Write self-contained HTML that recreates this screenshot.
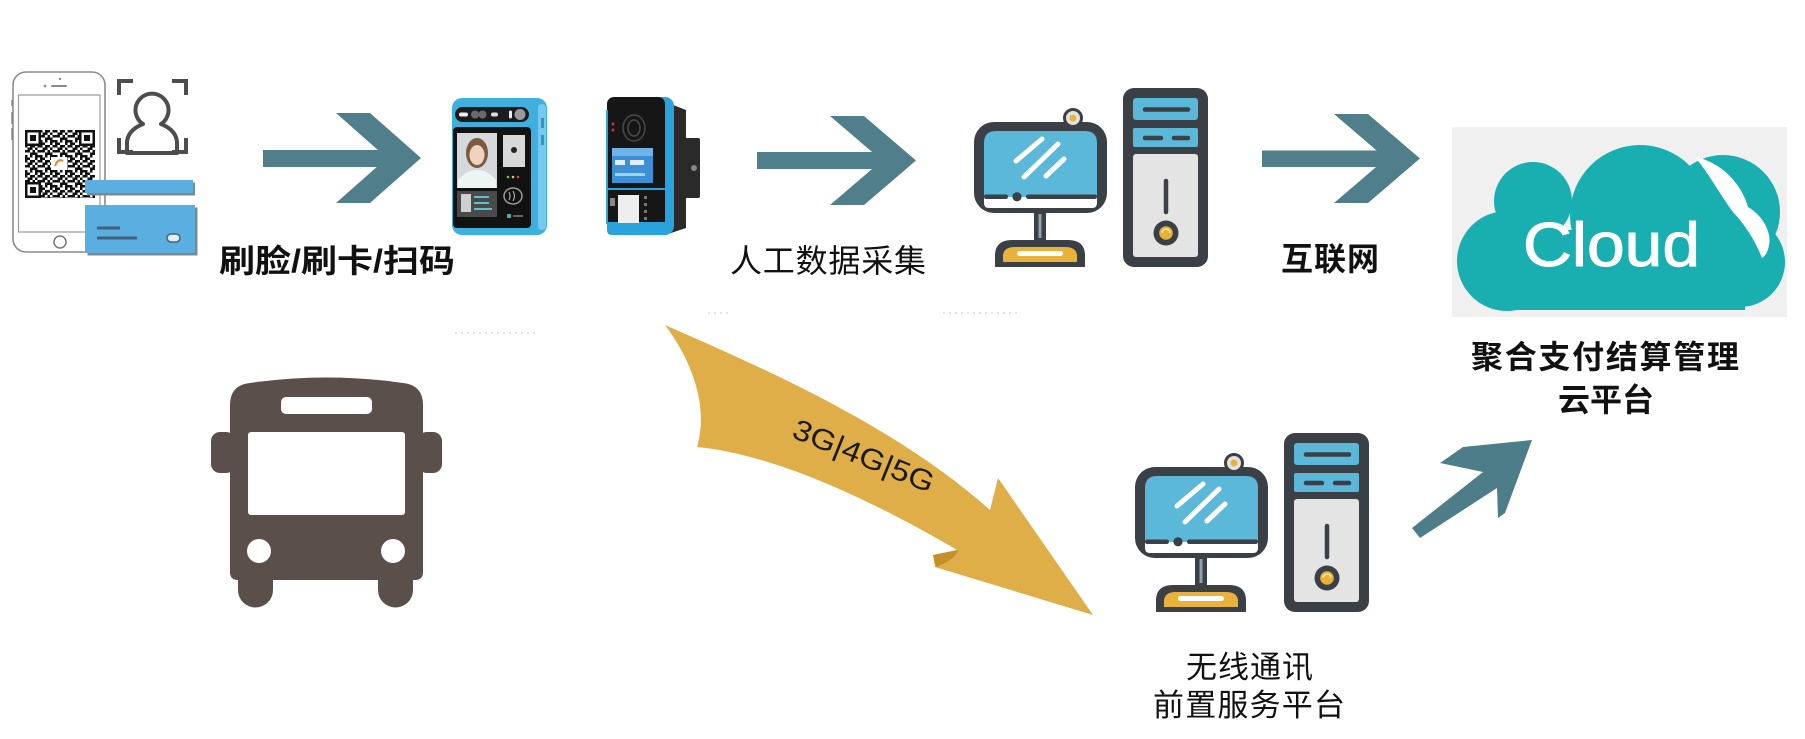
<!DOCTYPE html>
<html>
<head>
<meta charset="utf-8">
<style>
  html,body{margin:0;padding:0;background:#fff;}
  svg{display:block;}
  .cjk{font-family:"Liberation Sans","Noto Sans CJK SC",sans-serif;fill:#111;}
</style>
</head>
<body>
<svg xmlns="http://www.w3.org/2000/svg" xmlns:xlink="http://www.w3.org/1999/xlink" width="1805" height="739" viewBox="0 0 1805 739">
<defs>
  <pattern id="qr" x="25" y="130" width="15" height="15" patternUnits="userSpaceOnUse">
    <rect x="0" y="0" width="2.5" height="2.5" fill="#111"/>
    <rect x="5" y="0" width="5" height="2.5" fill="#111"/>
    <rect x="12.5" y="0" width="2.5" height="2.5" fill="#111"/>
    <rect x="2.5" y="2.5" width="5" height="2.5" fill="#111"/>
    <rect x="10" y="2.5" width="2.5" height="2.5" fill="#111"/>
    <rect x="0" y="5" width="5" height="2.5" fill="#111"/>
    <rect x="7.5" y="5" width="2.5" height="2.5" fill="#111"/>
    <rect x="12.5" y="5" width="2.5" height="2.5" fill="#111"/>
    <rect x="5" y="7.5" width="7.5" height="2.5" fill="#111"/>
    <rect x="0" y="10" width="2.5" height="2.5" fill="#111"/>
    <rect x="5" y="10" width="2.5" height="2.5" fill="#111"/>
    <rect x="10" y="10" width="5" height="2.5" fill="#111"/>
    <rect x="0" y="12.5" width="5" height="2.5" fill="#111"/>
    <rect x="10" y="12.5" width="2.5" height="2.5" fill="#111"/>
  </pattern>
</defs>
<rect width="1805" height="739" fill="#fff"/>

<!-- faint dotted lines -->
<g stroke="#c4c4c4" stroke-width="1" stroke-dasharray="2 4">
  <line x1="455" y1="333" x2="535" y2="333"/>
  <line x1="708" y1="313" x2="728" y2="313"/>
  <line x1="943" y1="313" x2="1020" y2="313"/>
</g>

<!-- ============ PHONE ============ -->
<rect x="13" y="72" width="92" height="180" rx="13" fill="#fff" stroke="#8c8c8c" stroke-width="1.6"/>
<rect x="18.5" y="95" width="81.5" height="137" fill="#fff" stroke="#9a9a9a" stroke-width="1.2"/>
<line x1="52" y1="86" x2="66" y2="86" stroke="#888" stroke-width="2" stroke-linecap="round"/>
<circle cx="45" cy="86" r="1.3" fill="#888"/>
<circle cx="60" cy="79" r="1.2" fill="#888"/>
<circle cx="60" cy="242" r="6" fill="none" stroke="#777" stroke-width="1.5"/>
<line x1="12" y1="100" x2="12" y2="106" stroke="#888" stroke-width="1.5"/>
<line x1="12" y1="112" x2="12" y2="124" stroke="#888" stroke-width="1.5"/>
<line x1="12" y1="128" x2="12" y2="140" stroke="#888" stroke-width="1.5"/>
<!-- QR -->
<rect x="25" y="130" width="70" height="68" fill="url(#qr)"/>
<g>
  <rect x="25" y="130" width="16" height="16" fill="#111"/><rect x="27.5" y="132.5" width="11" height="11" fill="#fff"/><rect x="30" y="135" width="6" height="6" fill="#111"/>
  <rect x="79" y="130" width="16" height="16" fill="#111"/><rect x="81.5" y="132.5" width="11" height="11" fill="#fff"/><rect x="84" y="135" width="6" height="6" fill="#111"/>
  <rect x="25" y="182" width="16" height="16" fill="#111"/><rect x="27.5" y="184.5" width="11" height="11" fill="#fff"/><rect x="30" y="187" width="6" height="6" fill="#111"/>
  <rect x="51" y="157" width="16" height="13" fill="#fff"/>
  <path d="M55,166 Q58,158 63,161" stroke="#e88a2a" stroke-width="2" fill="none"/>
</g>
<!-- card -->
<rect x="87" y="182.5" width="108" height="13" fill="#7d8890"/>
<rect x="85" y="180" width="108" height="13" fill="#5aaee0"/>
<rect x="87.5" y="207.5" width="110" height="48" fill="#7d8890"/>
<rect x="85" y="205" width="110" height="48" fill="#5aaee0"/>
<line x1="97" y1="228" x2="120" y2="228" stroke="#42607a" stroke-width="3"/>
<line x1="97" y1="238" x2="137" y2="238" stroke="#42607a" stroke-width="3"/>
<rect x="167" y="234" width="13" height="8" rx="4" fill="#e4edf3" stroke="#42607a" stroke-width="1.5"/>

<!-- face icon -->
<g fill="none" stroke="#4d4d4d" stroke-width="4" stroke-linecap="square">
  <path d="M119,93 V81 H131"/>
  <path d="M174,81 H186 V93"/>
  <path d="M119,140 V152 H131"/>
  <path d="M174,152 H186 V140"/>
  <path d="M143,124 A16.5,16.5 0 1 1 161,124 Q176,130 177,142 V153 H127 V142 Q128,130 143,124 Z" stroke-linejoin="round"/>
</g>

<!-- arrow 1 -->
<g fill="#517e8b">
  <rect x="263" y="150" width="130" height="17"/>
  <polygon points="336,113 370,113 421,158 370,203 336,203 387,158"/>
</g>

<!-- ============ DEVICE 1 (face terminal) ============ -->
<rect x="452" y="98" width="95" height="137" rx="10" fill="#3fb0de"/>
<rect x="538" y="104" width="8" height="126" rx="4" fill="#74c9ec"/>
<rect x="541" y="118" width="3" height="10" fill="#2d95c0"/>
<rect x="541" y="135" width="3" height="10" fill="#2d95c0"/>
<rect x="455" y="107" width="74" height="15" rx="7.5" fill="#1c1c1c"/>
<rect x="459" y="112.5" width="9" height="4" rx="2" fill="#eee"/>
<circle cx="475" cy="114.5" r="4" fill="#6a6a6a"/>
<circle cx="482.5" cy="114.5" r="4" fill="#6a6a6a"/>
<rect x="491" y="112.5" width="7" height="4" rx="2" fill="#ddd"/>
<rect x="509" y="110.5" width="3" height="8" rx="1.5" fill="#eee"/>
<circle cx="520" cy="114.5" r="5.5" fill="#9a9a9a"/>
<rect x="453" y="127" width="78" height="101" rx="4" fill="#121212"/>
<rect x="457" y="133" width="40" height="55" fill="#d5d9dc"/>
<ellipse cx="477" cy="153" rx="11" ry="15" fill="#7b5a44"/>
<ellipse cx="477" cy="155" rx="7.5" ry="10" fill="#efd2c0"/>
<path d="M458,188 V180 Q466,170 477,170 Q488,170 496,180 V188 Z" fill="#eef3f4"/>
<rect x="457" y="191" width="40" height="26" fill="#4a4a4a"/>
<rect x="461" y="194" width="10" height="18" fill="#cfcfcf"/>
<rect x="474" y="196" width="15" height="2" fill="#5bc4c8"/>
<rect x="474" y="202" width="15" height="2" fill="#5bc4c8"/>
<rect x="474" y="208" width="18" height="2" fill="#5bc4c8"/>
<rect x="503" y="135" width="22" height="32" fill="#d8d8d8"/>
<circle cx="514" cy="150" r="3" fill="#222"/>
<circle cx="508" cy="177" r="1.3" fill="#5c5"/>
<circle cx="513" cy="177" r="1.3" fill="#dc4"/>
<circle cx="518" cy="177" r="1.3" fill="#d44"/>
<ellipse cx="513" cy="196" rx="9" ry="8" fill="none" stroke="#9a9a9a" stroke-width="1.5"/>
<path d="M509,192 Q511,196 509,200 M513,191 Q516,196 513,201" stroke="#aaa" stroke-width="1.2" fill="none"/>
<rect x="507" y="214" width="4" height="4" fill="#3ab0b0"/>
<rect x="513" y="215" width="10" height="2" fill="#666"/>

<!-- ============ DEVICE 2 (POS) ============ -->
<rect x="682" y="138" width="18" height="60" rx="2" fill="#2a2a2a"/>
<circle cx="694" cy="168" r="3" fill="#888"/>
<path d="M668,103 L686,110 V228 L668,234 Z" fill="#2a2a2a"/>
<rect x="652" y="97" width="22" height="138" rx="9" fill="#2aa3dd"/>
<rect x="607" y="97" width="58" height="131" rx="7" fill="#161616"/>
<path d="M607,222 H670 V231 Q670,235 665,235 H612 Q607,235 607,230 Z" fill="#2aa3dd"/>
<rect x="606" y="110" width="2" height="114" fill="#2aa3dd"/>
<ellipse cx="634" cy="128" rx="11" ry="13" fill="none" stroke="#4a4a4a" stroke-width="1.5"/>
<ellipse cx="634" cy="128" rx="6" ry="8" fill="none" stroke="#4a4a4a" stroke-width="1.5"/>
<circle cx="613" cy="124" r="1.5" fill="#c33"/>
<circle cx="613" cy="130" r="1.5" fill="#c33"/>
<rect x="612" y="148" width="41" height="35" fill="#3d8fd6"/>
<rect x="612" y="148" width="41" height="8" fill="#6fb3ea"/>
<rect x="615" y="160" width="10" height="5" fill="#dfeefa"/>
<rect x="630" y="160" width="14" height="5" fill="#dfeefa"/>
<rect x="615" y="173" width="30" height="3" fill="#9fd0f5"/>
<rect x="607" y="188" width="60" height="2" fill="#2aa3dd"/>
<rect x="618" y="195" width="21" height="28" fill="#eee"/>
<rect x="610" y="198" width="5" height="8" fill="#888"/>
<rect x="644" y="196" width="3" height="3" fill="#777"/>
<rect x="644" y="203" width="3" height="3" fill="#777"/>
<rect x="644" y="210" width="3" height="3" fill="#777"/>
<rect x="644" y="217" width="3" height="3" fill="#777"/>

<!-- arrow 2 -->
<g fill="#517e8b">
  <rect x="757" y="152" width="130" height="17"/>
  <polygon points="830,116 864,116 916,160.5 864,205 830,205 882,160.5"/>
</g>

<!-- ============ COMPUTER ============ -->
<g id="pc">
  <rect x="974" y="122" width="133" height="91" rx="20" fill="#3a4046"/>
  <path d="M984,143 Q984,131 996,131 H1085 Q1097,131 1097,143 V197 H984 Z" fill="#5bb8d8"/>
  <path d="M984,197 H1097 V203 Q1097,208 1092,208 H989 Q984,208 984,203 Z" fill="#fff"/>
  <rect x="984" y="194.5" width="24" height="4.5" rx="2.2" fill="#3a4046"/>
  <rect x="1026" y="194.5" width="71" height="4.5" rx="2.2" fill="#3a4046"/>
  <circle cx="1017" cy="196.8" r="4.6" fill="#3a4046"/>
  <g stroke="#fff" stroke-width="5" stroke-linecap="round">
    <line x1="1016" y1="161" x2="1042" y2="139"/>
    <line x1="1024" y1="177" x2="1058" y2="144"/>
    <line x1="1046" y1="176" x2="1064" y2="159"/>
  </g>
  <circle cx="1073" cy="118" r="8.5" fill="#e2e2e2" stroke="#3a4046" stroke-width="3"/>
  <circle cx="1073" cy="118" r="3.5" fill="#e8b23a"/>
  <rect x="1034" y="212" width="12" height="30" fill="#3a4046"/>
  <rect x="1038.5" y="214" width="3" height="24" fill="#8fa3ad"/>
  <path d="M995,267 V254 Q996,240 1012,240 H1068 Q1084,240 1085,254 V267 Z" fill="#3a4046"/>
  <path d="M1003,262 V255 Q1004,247 1015,247 H1065 Q1076,247 1077,255 V262 Z" fill="#e8b23a"/>
  <rect x="1017" y="251" width="46" height="5" rx="2.5" fill="#fff"/>
  <rect x="1123" y="88" width="85" height="179" rx="11" fill="#3a4046"/>
  <rect x="1133" y="98" width="65" height="22" rx="3" fill="#5bb8d8"/>
  <line x1="1145" y1="109.5" x2="1188" y2="109.5" stroke="#3a4046" stroke-width="4.5" stroke-linecap="round"/>
  <rect x="1133" y="128" width="65" height="19" rx="2" fill="#5bb8d8"/>
  <line x1="1145" y1="138" x2="1161" y2="138" stroke="#3a4046" stroke-width="4.5" stroke-linecap="round"/>
  <line x1="1174" y1="138" x2="1188" y2="138" stroke="#3a4046" stroke-width="4.5" stroke-linecap="round"/>
  <rect x="1133" y="154" width="65" height="103" rx="3" fill="#e4e4e4"/>
  <line x1="1166" y1="181" x2="1166" y2="212" stroke="#3a4046" stroke-width="4.5" stroke-linecap="round"/>
  <circle cx="1166" cy="233" r="12.5" fill="#3a4046"/>
  <circle cx="1166" cy="233" r="6.8" fill="#e8b23a"/>
  <path d="M1162,233 A4,4 0 0 1 1170,233" stroke="#fbe3a0" stroke-width="1.5" fill="none"/>
</g>
<use xlink:href="#pc" href="#pc" transform="translate(161,345)"/>

<!-- arrow 3 -->
<g fill="#517e8b">
  <rect x="1262" y="150.5" width="130" height="16.5"/>
  <polygon points="1334,114 1368,114 1420,158.5 1368,203 1334,203 1386,158.5"/>
</g>

<!-- ============ CLOUD ============ -->
<rect x="1452" y="127" width="335" height="190" fill="#f0f0f0"/>
<g fill="#19afb1">
  <circle cx="1507" cy="261" r="50"/>
  <circle cx="1533" cy="201" r="39"/>
  <circle cx="1640" cy="215" r="70"/>
  <circle cx="1723" cy="212" r="57"/>
  <circle cx="1740" cy="262" r="45"/>
  <rect x="1500" y="230" width="245" height="80"/>
</g>
<path d="M1695,157 C1722,162 1742,185 1748,207 C1762,215 1772,232 1769,245 C1768,252 1765,256 1762,258 C1755,240 1745,225 1733,212 C1720,195 1710,175 1695,157 Z" fill="#fff"/>
<text x="1523" y="266" font-family="Liberation Sans, sans-serif" font-size="62" fill="#fff" stroke="#fff" stroke-width="1" textLength="177" lengthAdjust="spacingAndGlyphs">Cloud</text>

<!-- ============ BUS ============ -->
<g fill="#5a4f4b">
  <path d="M230,405 Q230,385 250,383 Q326,372 403,383 Q423,385 423,405 V572 Q423,580 415,580 H238 Q230,580 230,572 Z"/>
  <rect x="211" y="432" width="24" height="41" rx="9"/>
  <rect x="418" y="432" width="24" height="41" rx="9"/>
  <path d="M238,572 V590 A17.5,17.5 0 0 0 273,590 V572 Z"/>
  <path d="M378,572 V590 A17.5,17.5 0 0 0 413,590 V572 Z"/>
</g>
<g fill="#fff">
  <rect x="248" y="432" width="157" height="83" rx="3"/>
  <rect x="281" y="397" width="91" height="17" rx="5"/>
  <circle cx="259" cy="551" r="12"/>
  <circle cx="393" cy="551" r="12"/>
</g>

<!-- ============ YELLOW CURVED ARROW ============ -->
<path d="M665,325 C780,375 900,430 990,510 L998,478 L1093,615 L935,567 L933,555 L957,550 C880,505 780,455 697,447 C708,410 695,365 665,325 Z" fill="#dfae48"/>
<path d="M933,555 L958,550 Q955,560 936,567 Z" fill="#c3902c"/>
<text transform="translate(860,465) rotate(22)" text-anchor="middle" font-family="Liberation Sans, sans-serif" font-size="29" fill="#1a1a1a" textLength="150" lengthAdjust="spacingAndGlyphs">3G|4G|5G</text>

<!-- diagonal arrow -->
<polygon points="1532,440 1463,447 1440,463 1483,472 1412,528 1420,538 1497,488 1498,518 1505,513" fill="#4e7d8a"/>

<!-- ============ LABELS ============ -->
<text class="cjk" x="219" y="272" font-size="32" font-weight="bold" textLength="236" lengthAdjust="spacingAndGlyphs">刷脸/刷卡/扫码</text>
<text class="cjk" x="730" y="272" font-size="32" textLength="196" lengthAdjust="spacing">人工数据采集</text>
<text class="cjk" x="1281" y="270" font-size="32" font-weight="bold" textLength="98" lengthAdjust="spacing">互联网</text>
<text class="cjk" x="1471" y="368" font-size="32" font-weight="bold" textLength="268" lengthAdjust="spacing">聚合支付结算管理</text>
<text class="cjk" x="1558" y="411" font-size="32" font-weight="bold" textLength="96" lengthAdjust="spacing">云平台</text>
<text class="cjk" x="1186" y="678" font-size="31" textLength="127" lengthAdjust="spacing">无线通讯</text>
<text class="cjk" x="1153" y="716" font-size="31" textLength="192" lengthAdjust="spacing">前置服务平台</text>
</svg>
</body>
</html>
